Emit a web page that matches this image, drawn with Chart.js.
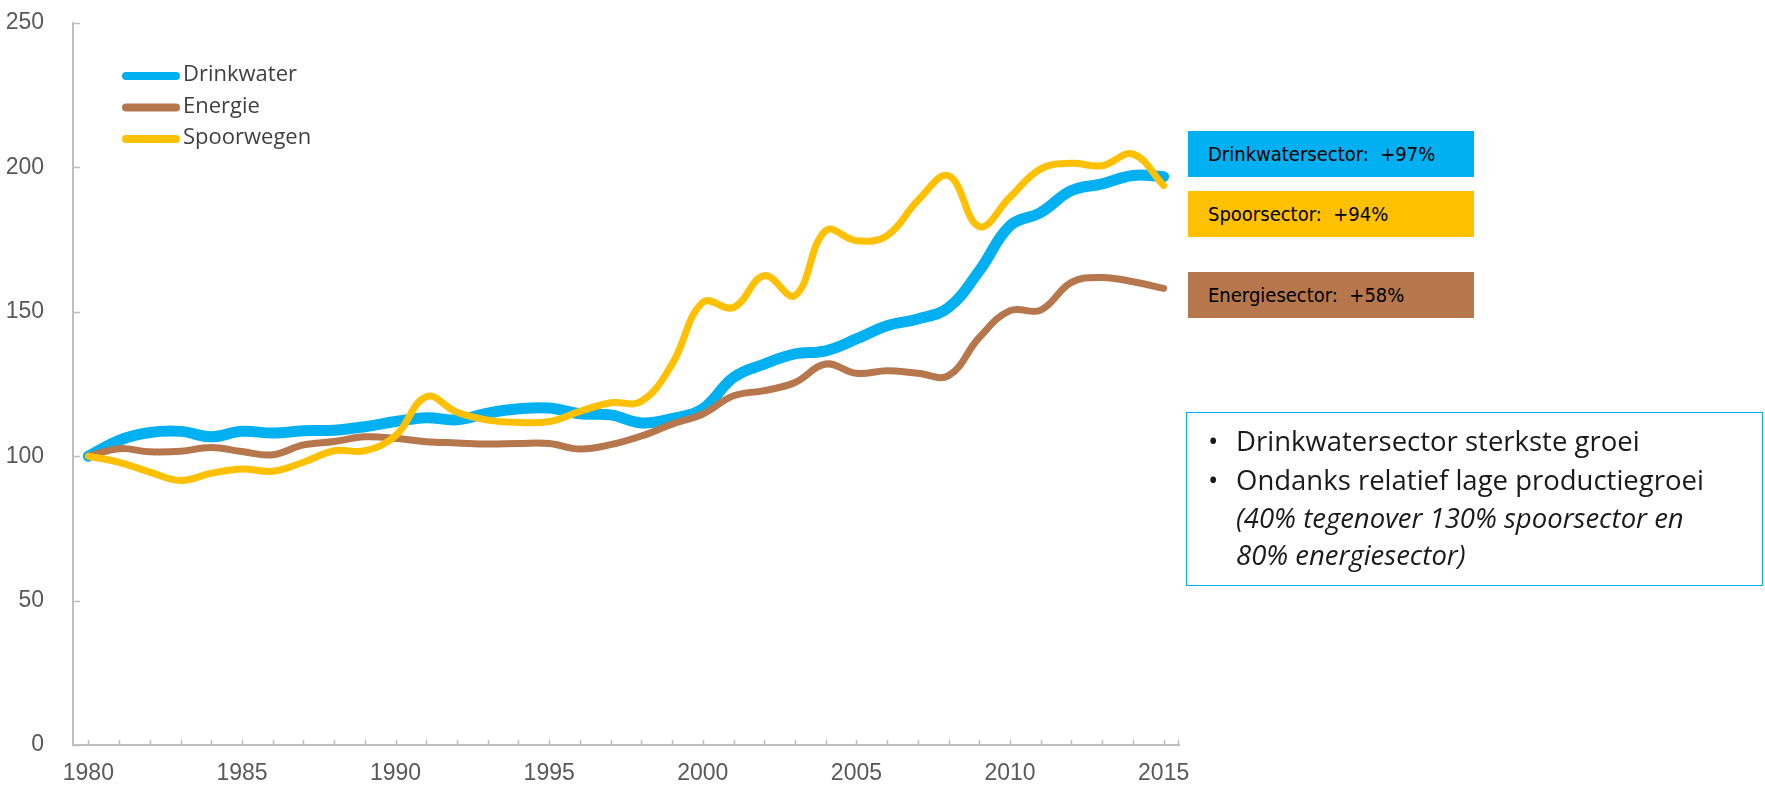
<!DOCTYPE html>
<html>
<head>
<meta charset="utf-8">
<script src="https://cdn.jsdelivr.net/npm/chart.js@4/dist/chart.umd.min.js"></script>
<style>
  body { margin: 0; background: #fff; }
  #wrap { position: relative; width: 1765px; height: 785px; }
  .tag { position: absolute; left: 1188px; width: 286px; height: 46px; line-height: 46px;
         padding-left: 20px; box-sizing: border-box; color: #000;
         font-family: "DejaVu Sans Condensed", "Noto Sans", sans-serif; font-size: 20px; white-space: pre; }
  #note { position: absolute; left: 1186px; top: 412px; width: 577px; height: 174px; box-sizing: border-box;
          border: 1.5px solid #00B0F0; font-family: "Open Sans", sans-serif; font-size: 27.5px; color: #1a1a1a; }
  #note ul { margin: 0; padding: 8px 0 0 49px; list-style: none; }
  #note li { position: relative; line-height: 39px; }
  #note li:before { content: "\2022"; position: absolute; left: -28px; }
  #note .sub { font-style: italic; line-height: 37px; }
</style>
</head>
<body>
<div id="wrap">
  <canvas id="chart" width="1765" height="785"></canvas>
  <div class="tag" style="top:131px;background:#00B0F0">Drinkwatersector:  +97%</div>
  <div class="tag" style="top:191px;background:#FFC000">Spoorsector:  +94%</div>
  <div class="tag" style="top:272px;background:#B5774B">Energiesector:  +58%</div>
  <div id="note">
    <ul>
      <li>Drinkwatersector sterkste groei</li>
      <li>Ondanks relatief lage productiegroei<div class="sub">(40% tegenover 130% spoorsector en<br>80% energiesector)</div></li>
    </ul>
  </div>
</div>
<script>
// Index, 1980 = 100
const years = ['1980', '1981', '1982', '1983', '1984', '1985', '1986', '1987', '1988', '1989',
               '1990', '1991', '1992', '1993', '1994', '1995', '1996', '1997', '1998', '1999',
               '2000', '2001', '2002', '2003', '2004', '2005', '2006', '2007', '2008', '2009',
               '2010', '2011', '2012', '2013', '2014', '2015'];
const shownYears = ['1980', '1985', '1990', '1995', '2000', '2005', '2010', '2015'];

const drinkwater = [100, 105.5, 108.2, 108.6, 106.7, 108.6, 108, 108.8, 109, 110.2,
                    112, 113.3, 112.6, 114.9, 116.4, 116.7, 114.7, 114.3, 111.5, 113,
                    116.4, 127.3, 131.9, 135.4, 136.5, 140.6, 145.2, 147.5, 151.5, 164.2,
                    179.8, 184.4, 192, 194.3, 197.2, 196.8];
const energie = [100, 102.6, 101.5, 101.7, 103, 101.6, 100.5, 103.9, 105.1, 106.7,
                 106.2, 105, 104.6, 104.2, 104.4, 104.4, 102.5, 104, 107, 111.1,
                 114.6, 120.9, 122.7, 125.5, 131.9, 128.7, 129.6, 128.7, 127.9, 141.1,
                 150.4, 150.6, 160.2, 161.9, 160.4, 158.1];
const spoorwegen = [100, 97.9, 94.5, 91.6, 94.1, 95.6, 94.8, 97.9, 101.9, 101.9,
                    107.1, 120.6, 115.2, 112.5, 111.7, 112, 115.5, 118.5, 119, 131.9,
                    153.3, 151.5, 162.5, 155.6, 178.1, 174.6, 176.4, 188.5, 197.1, 179.5,
                    189.7, 199.5, 201.4, 200.6, 204.6, 193.7];
const yTicks = [0, 50, 100, 150, 200, 250];

const axisColor = '#BFBFBF';
const tickFont = { family: '"Liberation Sans", Arial, sans-serif', size: 23 };

// inward tick marks + legend inside the plot
const decor = {
    id: 'decor',
    afterDraw(chart) {
        const ctx = chart.ctx;
        const x = chart.scales.x, y = chart.scales.y;
        const area = chart.chartArea;
        ctx.save();
        ctx.strokeStyle = axisColor;
        ctx.lineWidth = 1.5;
        ctx.beginPath();
        x.ticks.forEach((t, i) => {
            const px = Math.round(x.getPixelForTick(i)) + 0.5;
            ctx.moveTo(px, area.bottom);
            ctx.lineTo(px, area.bottom - 5);
        });
        ctx.moveTo(area.right - 0.5, area.bottom);
        ctx.lineTo(area.right - 0.5, area.bottom - 5);
        y.ticks.forEach((t, i) => {
            const py = Math.round(y.getPixelForTick(i)) + 0.5;
            ctx.moveTo(area.left, py);
            ctx.lineTo(area.left + 7, py);
        });
        ctx.stroke();

        // legend
        ctx.font = '22px "Open Sans", sans-serif';
        ctx.textBaseline = 'middle';
        ctx.lineCap = 'round';
        [0, 1, 2].forEach(i => {
            const ds = chart.data.datasets[i];
            const ly = 76 + i * 31.5;
            ctx.strokeStyle = ds.borderColor;
            ctx.lineWidth = 8;
            ctx.beginPath();
            ctx.moveTo(126, ly);
            ctx.lineTo(176, ly);
            ctx.stroke();
            ctx.fillStyle = '#404040';
            ctx.fillText(ds.label, 183, ly - 1);
        });
        ctx.restore();
    }
};

new Chart(document.getElementById('chart'), {
    type: 'line',
    data: {
        labels: years,
        datasets: [
            { label: 'Drinkwater', data: drinkwater, borderColor: '#00B0F0', borderWidth: 11, order: 3 },
            { label: 'Energie', data: energie, borderColor: '#B5774B', borderWidth: 7, order: 2 },
            { label: 'Spoorwegen', data: spoorwegen, borderColor: '#FFC000', borderWidth: 7, order: 1 }
        ]
    },
    options: {
        responsive: false,
        animation: false,
        layout: { padding: { left: 0, top: 23, right: 586, bottom: 0 } },
        elements: {
            line: { tension: 0.4, borderCapStyle: 'round', borderJoinStyle: 'round', fill: false },
            point: { radius: 0, hoverRadius: 0 }
        },
        plugins: { legend: { display: false }, tooltip: { enabled: false } },
        scales: {
            x: {
                offset: true,
                grid: { display: false, offset: false },
                border: { display: true, color: axisColor, width: 2 },
                ticks: {
                    autoSkip: false, maxRotation: 0, padding: 7,
                    color: '#595959',
                    font: tickFont,
                    callback: function (v) {
                        const lab = this.getLabelForValue(v);
                        return shownYears.includes(lab) ? lab : '';
                    }
                },
                afterFit: s => { s.height = 40; s.paddingLeft = 0; s.paddingRight = 0; }
            },
            y: {
                min: 0, max: 250,
                afterBuildTicks: s => { s.ticks = yTicks.map(v => ({ value: v })); },
                grid: { display: false },
                border: { display: true, color: axisColor, width: 2 },
                ticks: { padding: 21, color: '#595959', font: tickFont },
                afterFit: s => { s.width = 73; s.paddingTop = 0; s.paddingBottom = 0; }
            }
        }
    },
    plugins: [decor]
});
</script>
</body>
</html>
